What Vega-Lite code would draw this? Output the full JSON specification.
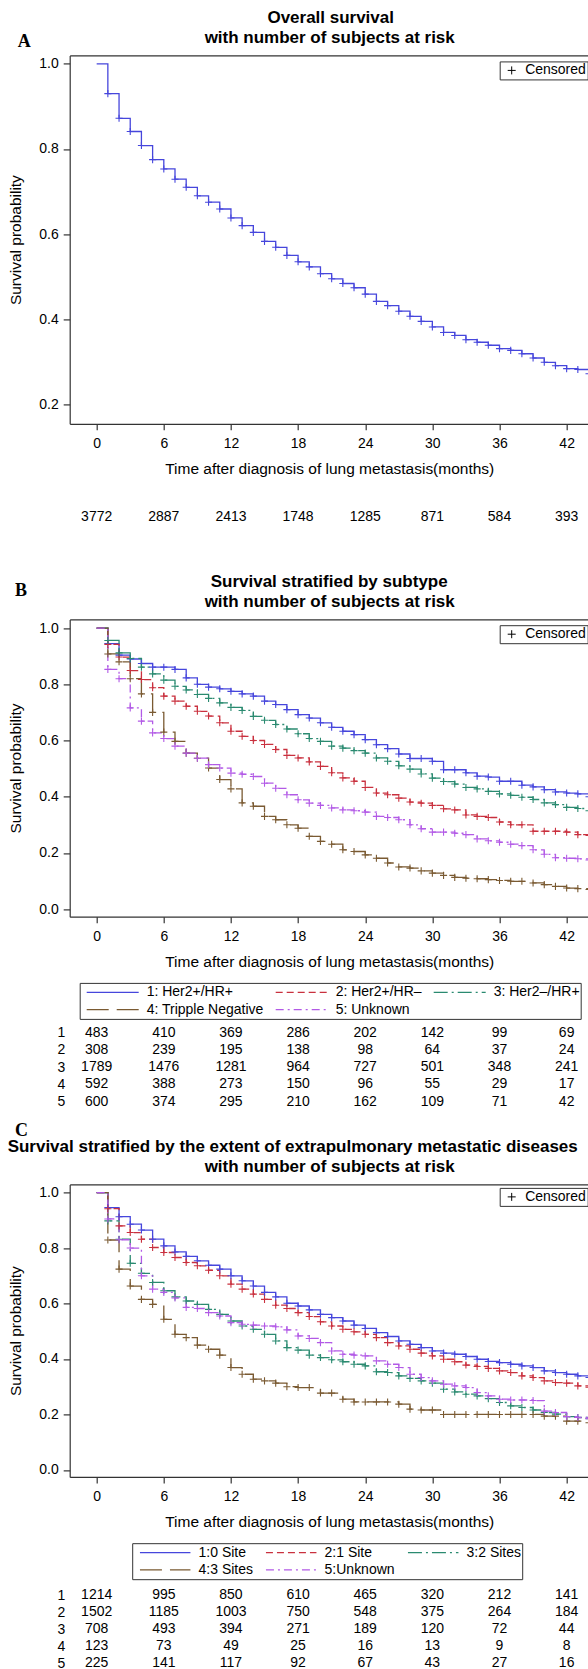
{
"$schema": "https://vega.github.io/schema/vega-lite/v6.json",
"padding": {"left": 6.7, "top": 9.4, "right": 0, "bottom": 0},
"bounds": "flush",
"spacing": 0,
"resolve": {"scale": {"color": "independent", "strokeDash": "independent", "shape": "independent"}, "legend": {"color": "independent", "strokeDash": "independent", "shape": "independent"}},
"title": {"text": "A", "anchor": "start", "frame": "bounds", "font": "Liberation Serif", "fontSize": 18, "fontWeight": "bold", "baseline": "alphabetic", "offset": -55.8, "dx": 10.5, "color": "#000"},
"config": {
 "view": {"stroke": null},
 "font": "Liberation Sans",
 "title": {"color": "#000", "font": "Liberation Sans"},
 "axis": {"domainColor": "#333", "tickColor": "#333", "labelColor": "#000", "titleColor": "#000", "labelFont": "Liberation Sans", "titleFont": "Liberation Sans", "grid": false, "labelFontSize": 14, "titleFontSize": 15.5, "titleFontWeight": "normal", "domainWidth": 1.2, "tickWidth": 1.2},
 "legend": {"labelFont": "Liberation Sans"}
},
"datasets": {
"A": [
{"t":0,"s":1},{"t":1,"s":0.93},{"t":2,"s":0.872},{"t":3,"s":0.841},{"t":4,"s":0.808},{"t":5,"s":0.775},{"t":6,"s":0.753},{"t":7,"s":0.729},{"t":8,"s":0.71},{"t":9,"s":0.69},{"t":10,"s":0.675},{"t":11,"s":0.659},{"t":12,"s":0.638},{"t":13,"s":0.62},{"t":14,"s":0.604},{"t":15,"s":0.583},{"t":16,"s":0.569},{"t":17,"s":0.55},{"t":18,"s":0.535},{"t":19,"s":0.523},{"t":20,"s":0.507},{"t":21,"s":0.495},{"t":22,"s":0.484},{"t":23,"s":0.474},{"t":24,"s":0.459},{"t":25,"s":0.442},{"t":26,"s":0.432},{"t":27,"s":0.419},{"t":28,"s":0.407},{"t":29,"s":0.395},{"t":30,"s":0.382},{"t":31,"s":0.369},{"t":32,"s":0.362},{"t":33,"s":0.352},{"t":34,"s":0.346},{"t":35,"s":0.339},{"t":36,"s":0.331},{"t":37,"s":0.327},{"t":38,"s":0.319},{"t":39,"s":0.309},{"t":40,"s":0.299},{"t":41,"s":0.291},{"t":42,"s":0.284},{"t":43,"s":0.282},{"t":44,"s":0.272},{"t":45,"s":0.272}
],
"B": [
{"g":"1: Her2+/HR+","t":0,"s":1},{"g":"1: Her2+/HR+","t":1,"s":0.945},{"g":"1: Her2+/HR+","t":2,"s":0.904},{"g":"1: Her2+/HR+","t":3,"s":0.89},{"g":"1: Her2+/HR+","t":4,"s":0.874},{"g":"1: Her2+/HR+","t":5,"s":0.861},{"g":"1: Her2+/HR+","t":6,"s":0.861},{"g":"1: Her2+/HR+","t":7,"s":0.853},{"g":"1: Her2+/HR+","t":8,"s":0.823},{"g":"1: Her2+/HR+","t":9,"s":0.8},{"g":"1: Her2+/HR+","t":10,"s":0.79},{"g":"1: Her2+/HR+","t":11,"s":0.784},{"g":"1: Her2+/HR+","t":12,"s":0.775},{"g":"1: Her2+/HR+","t":13,"s":0.766},{"g":"1: Her2+/HR+","t":14,"s":0.758},{"g":"1: Her2+/HR+","t":15,"s":0.74},{"g":"1: Her2+/HR+","t":16,"s":0.728},{"g":"1: Her2+/HR+","t":17,"s":0.71},{"g":"1: Her2+/HR+","t":18,"s":0.692},{"g":"1: Her2+/HR+","t":19,"s":0.68},{"g":"1: Her2+/HR+","t":20,"s":0.663},{"g":"1: Her2+/HR+","t":21,"s":0.647},{"g":"1: Her2+/HR+","t":22,"s":0.633},{"g":"1: Her2+/HR+","t":23,"s":0.621},{"g":"1: Her2+/HR+","t":24,"s":0.603},{"g":"1: Her2+/HR+","t":25,"s":0.585},{"g":"1: Her2+/HR+","t":26,"s":0.571},{"g":"1: Her2+/HR+","t":27,"s":0.552},{"g":"1: Her2+/HR+","t":28,"s":0.536},{"g":"1: Her2+/HR+","t":29,"s":0.536},{"g":"1: Her2+/HR+","t":30,"s":0.526},{"g":"1: Her2+/HR+","t":31,"s":0.496},{"g":"1: Her2+/HR+","t":32,"s":0.496},{"g":"1: Her2+/HR+","t":33,"s":0.485},{"g":"1: Her2+/HR+","t":34,"s":0.473},{"g":"1: Her2+/HR+","t":35,"s":0.47},{"g":"1: Her2+/HR+","t":36,"s":0.455},{"g":"1: Her2+/HR+","t":37,"s":0.455},{"g":"1: Her2+/HR+","t":38,"s":0.441},{"g":"1: Her2+/HR+","t":39,"s":0.435},{"g":"1: Her2+/HR+","t":40,"s":0.425},{"g":"1: Her2+/HR+","t":41,"s":0.417},{"g":"1: Her2+/HR+","t":42,"s":0.413},{"g":"1: Her2+/HR+","t":43,"s":0.41},{"g":"1: Her2+/HR+","t":44,"s":0.4},{"g":"1: Her2+/HR+","t":45,"s":0.4},
{"g":"2: Her2+/HR–","t":0,"s":1},{"g":"2: Her2+/HR–","t":1,"s":0.942},{"g":"2: Her2+/HR–","t":2,"s":0.897},{"g":"2: Her2+/HR–","t":3,"s":0.849},{"g":"2: Her2+/HR–","t":4,"s":0.817},{"g":"2: Her2+/HR–","t":5,"s":0.788},{"g":"2: Her2+/HR–","t":6,"s":0.758},{"g":"2: Her2+/HR–","t":7,"s":0.74},{"g":"2: Her2+/HR–","t":8,"s":0.722},{"g":"2: Her2+/HR–","t":9,"s":0.704},{"g":"2: Her2+/HR–","t":10,"s":0.687},{"g":"2: Her2+/HR–","t":11,"s":0.663},{"g":"2: Her2+/HR–","t":12,"s":0.633},{"g":"2: Her2+/HR–","t":13,"s":0.615},{"g":"2: Her2+/HR–","t":14,"s":0.6},{"g":"2: Her2+/HR–","t":15,"s":0.586},{"g":"2: Her2+/HR–","t":16,"s":0.568},{"g":"2: Her2+/HR–","t":17,"s":0.547},{"g":"2: Her2+/HR–","t":18,"s":0.538},{"g":"2: Her2+/HR–","t":19,"s":0.524},{"g":"2: Her2+/HR–","t":20,"s":0.508},{"g":"2: Her2+/HR–","t":21,"s":0.485},{"g":"2: Her2+/HR–","t":22,"s":0.467},{"g":"2: Her2+/HR–","t":23,"s":0.455},{"g":"2: Her2+/HR–","t":24,"s":0.433},{"g":"2: Her2+/HR–","t":25,"s":0.413},{"g":"2: Her2+/HR–","t":26,"s":0.407},{"g":"2: Her2+/HR–","t":27,"s":0.395},{"g":"2: Her2+/HR–","t":28,"s":0.381},{"g":"2: Her2+/HR–","t":29,"s":0.377},{"g":"2: Her2+/HR–","t":30,"s":0.369},{"g":"2: Her2+/HR–","t":31,"s":0.357},{"g":"2: Her2+/HR–","t":32,"s":0.353},{"g":"2: Her2+/HR–","t":33,"s":0.335},{"g":"2: Her2+/HR–","t":34,"s":0.33},{"g":"2: Her2+/HR–","t":35,"s":0.326},{"g":"2: Her2+/HR–","t":36,"s":0.31},{"g":"2: Her2+/HR–","t":37,"s":0.3},{"g":"2: Her2+/HR–","t":38,"s":0.3},{"g":"2: Her2+/HR–","t":39,"s":0.277},{"g":"2: Her2+/HR–","t":40,"s":0.277},{"g":"2: Her2+/HR–","t":41,"s":0.277},{"g":"2: Her2+/HR–","t":42,"s":0.274},{"g":"2: Her2+/HR–","t":43,"s":0.265},{"g":"2: Her2+/HR–","t":44,"s":0.262},{"g":"2: Her2+/HR–","t":45,"s":0.262},
{"g":"3: Her2–/HR+","t":0,"s":1},{"g":"3: Her2–/HR+","t":1,"s":0.956},{"g":"3: Her2–/HR+","t":2,"s":0.912},{"g":"3: Her2–/HR+","t":3,"s":0.892},{"g":"3: Her2–/HR+","t":4,"s":0.861},{"g":"3: Her2–/HR+","t":5,"s":0.837},{"g":"3: Her2–/HR+","t":6,"s":0.815},{"g":"3: Her2–/HR+","t":7,"s":0.793},{"g":"3: Her2–/HR+","t":8,"s":0.78},{"g":"3: Her2–/HR+","t":9,"s":0.764},{"g":"3: Her2–/HR+","t":10,"s":0.75},{"g":"3: Her2–/HR+","t":11,"s":0.734},{"g":"3: Her2–/HR+","t":12,"s":0.718},{"g":"3: Her2–/HR+","t":13,"s":0.707},{"g":"3: Her2–/HR+","t":14,"s":0.686},{"g":"3: Her2–/HR+","t":15,"s":0.672},{"g":"3: Her2–/HR+","t":16,"s":0.657},{"g":"3: Her2–/HR+","t":17,"s":0.641},{"g":"3: Her2–/HR+","t":18,"s":0.624},{"g":"3: Her2–/HR+","t":19,"s":0.607},{"g":"3: Her2–/HR+","t":20,"s":0.597},{"g":"3: Her2–/HR+","t":21,"s":0.58},{"g":"3: Her2–/HR+","t":22,"s":0.573},{"g":"3: Her2–/HR+","t":23,"s":0.564},{"g":"3: Her2–/HR+","t":24,"s":0.555},{"g":"3: Her2–/HR+","t":25,"s":0.538},{"g":"3: Her2–/HR+","t":26,"s":0.526},{"g":"3: Her2–/HR+","t":27,"s":0.51},{"g":"3: Her2–/HR+","t":28,"s":0.498},{"g":"3: Her2–/HR+","t":29,"s":0.481},{"g":"3: Her2–/HR+","t":30,"s":0.466},{"g":"3: Her2–/HR+","t":31,"s":0.454},{"g":"3: Her2–/HR+","t":32,"s":0.445},{"g":"3: Her2–/HR+","t":33,"s":0.433},{"g":"3: Her2–/HR+","t":34,"s":0.428},{"g":"3: Her2–/HR+","t":35,"s":0.419},{"g":"3: Her2–/HR+","t":36,"s":0.41},{"g":"3: Her2–/HR+","t":37,"s":0.405},{"g":"3: Her2–/HR+","t":38,"s":0.398},{"g":"3: Her2–/HR+","t":39,"s":0.39},{"g":"3: Her2–/HR+","t":40,"s":0.378},{"g":"3: Her2–/HR+","t":41,"s":0.372},{"g":"3: Her2–/HR+","t":42,"s":0.362},{"g":"3: Her2–/HR+","t":43,"s":0.358},{"g":"3: Her2–/HR+","t":44,"s":0.35},{"g":"3: Her2–/HR+","t":45,"s":0.35},
{"g":"4: Tripple Negative","t":0,"s":1},{"g":"4: Tripple Negative","t":1,"s":0.908},{"g":"4: Tripple Negative","t":2,"s":0.88},{"g":"4: Tripple Negative","t":3,"s":0.82},{"g":"4: Tripple Negative","t":4,"s":0.766},{"g":"4: Tripple Negative","t":5,"s":0.7},{"g":"4: Tripple Negative","t":6,"s":0.63},{"g":"4: Tripple Negative","t":7,"s":0.597},{"g":"4: Tripple Negative","t":8,"s":0.555},{"g":"4: Tripple Negative","t":9,"s":0.537},{"g":"4: Tripple Negative","t":10,"s":0.502},{"g":"4: Tripple Negative","t":11,"s":0.461},{"g":"4: Tripple Negative","t":12,"s":0.428},{"g":"4: Tripple Negative","t":13,"s":0.378},{"g":"4: Tripple Negative","t":14,"s":0.366},{"g":"4: Tripple Negative","t":15,"s":0.33},{"g":"4: Tripple Negative","t":16,"s":0.318},{"g":"4: Tripple Negative","t":17,"s":0.3},{"g":"4: Tripple Negative","t":18,"s":0.288},{"g":"4: Tripple Negative","t":19,"s":0.259},{"g":"4: Tripple Negative","t":20,"s":0.241},{"g":"4: Tripple Negative","t":21,"s":0.231},{"g":"4: Tripple Negative","t":22,"s":0.211},{"g":"4: Tripple Negative","t":23,"s":0.205},{"g":"4: Tripple Negative","t":24,"s":0.193},{"g":"4: Tripple Negative","t":25,"s":0.181},{"g":"4: Tripple Negative","t":26,"s":0.164},{"g":"4: Tripple Negative","t":27,"s":0.15},{"g":"4: Tripple Negative","t":28,"s":0.146},{"g":"4: Tripple Negative","t":29,"s":0.136},{"g":"4: Tripple Negative","t":30,"s":0.128},{"g":"4: Tripple Negative","t":31,"s":0.12},{"g":"4: Tripple Negative","t":32,"s":0.113},{"g":"4: Tripple Negative","t":33,"s":0.11},{"g":"4: Tripple Negative","t":34,"s":0.108},{"g":"4: Tripple Negative","t":35,"s":0.105},{"g":"4: Tripple Negative","t":36,"s":0.102},{"g":"4: Tripple Negative","t":37,"s":0.099},{"g":"4: Tripple Negative","t":38,"s":0.099},{"g":"4: Tripple Negative","t":39,"s":0.093},{"g":"4: Tripple Negative","t":40,"s":0.087},{"g":"4: Tripple Negative","t":41,"s":0.081},{"g":"4: Tripple Negative","t":42,"s":0.075},{"g":"4: Tripple Negative","t":43,"s":0.073},{"g":"4: Tripple Negative","t":44,"s":0.07},{"g":"4: Tripple Negative","t":45,"s":0.07},
{"g":"5: Unknown","t":0,"s":1},{"g":"5: Unknown","t":1,"s":0.853},{"g":"5: Unknown","t":2,"s":0.82},{"g":"5: Unknown","t":3,"s":0.716},{"g":"5: Unknown","t":4,"s":0.669},{"g":"5: Unknown","t":5,"s":0.627},{"g":"5: Unknown","t":6,"s":0.607},{"g":"5: Unknown","t":7,"s":0.58},{"g":"5: Unknown","t":8,"s":0.555},{"g":"5: Unknown","t":9,"s":0.537},{"g":"5: Unknown","t":10,"s":0.514},{"g":"5: Unknown","t":11,"s":0.502},{"g":"5: Unknown","t":12,"s":0.484},{"g":"5: Unknown","t":13,"s":0.48},{"g":"5: Unknown","t":14,"s":0.472},{"g":"5: Unknown","t":15,"s":0.448},{"g":"5: Unknown","t":16,"s":0.43},{"g":"5: Unknown","t":17,"s":0.407},{"g":"5: Unknown","t":18,"s":0.389},{"g":"5: Unknown","t":19,"s":0.377},{"g":"5: Unknown","t":20,"s":0.369},{"g":"5: Unknown","t":21,"s":0.36},{"g":"5: Unknown","t":22,"s":0.353},{"g":"5: Unknown","t":23,"s":0.35},{"g":"5: Unknown","t":24,"s":0.345},{"g":"5: Unknown","t":25,"s":0.33},{"g":"5: Unknown","t":26,"s":0.326},{"g":"5: Unknown","t":27,"s":0.318},{"g":"5: Unknown","t":28,"s":0.3},{"g":"5: Unknown","t":29,"s":0.286},{"g":"5: Unknown","t":30,"s":0.274},{"g":"5: Unknown","t":31,"s":0.274},{"g":"5: Unknown","t":32,"s":0.27},{"g":"5: Unknown","t":33,"s":0.265},{"g":"5: Unknown","t":34,"s":0.25},{"g":"5: Unknown","t":35,"s":0.243},{"g":"5: Unknown","t":36,"s":0.238},{"g":"5: Unknown","t":37,"s":0.231},{"g":"5: Unknown","t":38,"s":0.226},{"g":"5: Unknown","t":39,"s":0.211},{"g":"5: Unknown","t":40,"s":0.195},{"g":"5: Unknown","t":41,"s":0.183},{"g":"5: Unknown","t":42,"s":0.181},{"g":"5: Unknown","t":43,"s":0.179},{"g":"5: Unknown","t":44,"s":0.175},{"g":"5: Unknown","t":45,"s":0.175}
],
"C": [
{"g":"1:0 Site","t":0,"s":1},{"g":"1:0 Site","t":1,"s":0.946},{"g":"1:0 Site","t":2,"s":0.913},{"g":"1:0 Site","t":3,"s":0.886},{"g":"1:0 Site","t":4,"s":0.865},{"g":"1:0 Site","t":5,"s":0.832},{"g":"1:0 Site","t":6,"s":0.808},{"g":"1:0 Site","t":7,"s":0.786},{"g":"1:0 Site","t":8,"s":0.77},{"g":"1:0 Site","t":9,"s":0.754},{"g":"1:0 Site","t":10,"s":0.738},{"g":"1:0 Site","t":11,"s":0.724},{"g":"1:0 Site","t":12,"s":0.7},{"g":"1:0 Site","t":13,"s":0.682},{"g":"1:0 Site","t":14,"s":0.663},{"g":"1:0 Site","t":15,"s":0.64},{"g":"1:0 Site","t":16,"s":0.624},{"g":"1:0 Site","t":17,"s":0.601},{"g":"1:0 Site","t":18,"s":0.591},{"g":"1:0 Site","t":19,"s":0.577},{"g":"1:0 Site","t":20,"s":0.561},{"g":"1:0 Site","t":21,"s":0.549},{"g":"1:0 Site","t":22,"s":0.537},{"g":"1:0 Site","t":23,"s":0.522},{"g":"1:0 Site","t":24,"s":0.51},{"g":"1:0 Site","t":25,"s":0.495},{"g":"1:0 Site","t":26,"s":0.481},{"g":"1:0 Site","t":27,"s":0.465},{"g":"1:0 Site","t":28,"s":0.453},{"g":"1:0 Site","t":29,"s":0.441},{"g":"1:0 Site","t":30,"s":0.429},{"g":"1:0 Site","t":31,"s":0.421},{"g":"1:0 Site","t":32,"s":0.417},{"g":"1:0 Site","t":33,"s":0.409},{"g":"1:0 Site","t":34,"s":0.399},{"g":"1:0 Site","t":35,"s":0.391},{"g":"1:0 Site","t":36,"s":0.387},{"g":"1:0 Site","t":37,"s":0.381},{"g":"1:0 Site","t":38,"s":0.375},{"g":"1:0 Site","t":39,"s":0.369},{"g":"1:0 Site","t":40,"s":0.357},{"g":"1:0 Site","t":41,"s":0.351},{"g":"1:0 Site","t":42,"s":0.345},{"g":"1:0 Site","t":43,"s":0.339},{"g":"1:0 Site","t":44,"s":0.333},{"g":"1:0 Site","t":45,"s":0.333},
{"g":"2:1 Site","t":0,"s":1},{"g":"2:1 Site","t":1,"s":0.942},{"g":"2:1 Site","t":2,"s":0.88},{"g":"2:1 Site","t":3,"s":0.856},{"g":"2:1 Site","t":4,"s":0.832},{"g":"2:1 Site","t":5,"s":0.802},{"g":"2:1 Site","t":6,"s":0.784},{"g":"2:1 Site","t":7,"s":0.766},{"g":"2:1 Site","t":8,"s":0.748},{"g":"2:1 Site","t":9,"s":0.736},{"g":"2:1 Site","t":10,"s":0.72},{"g":"2:1 Site","t":11,"s":0.7},{"g":"2:1 Site","t":12,"s":0.67},{"g":"2:1 Site","t":13,"s":0.652},{"g":"2:1 Site","t":14,"s":0.634},{"g":"2:1 Site","t":15,"s":0.615},{"g":"2:1 Site","t":16,"s":0.594},{"g":"2:1 Site","t":17,"s":0.582},{"g":"2:1 Site","t":18,"s":0.567},{"g":"2:1 Site","t":19,"s":0.553},{"g":"2:1 Site","t":20,"s":0.534},{"g":"2:1 Site","t":21,"s":0.519},{"g":"2:1 Site","t":22,"s":0.507},{"g":"2:1 Site","t":23,"s":0.498},{"g":"2:1 Site","t":24,"s":0.489},{"g":"2:1 Site","t":25,"s":0.477},{"g":"2:1 Site","t":26,"s":0.459},{"g":"2:1 Site","t":27,"s":0.447},{"g":"2:1 Site","t":28,"s":0.435},{"g":"2:1 Site","t":29,"s":0.421},{"g":"2:1 Site","t":30,"s":0.411},{"g":"2:1 Site","t":31,"s":0.399},{"g":"2:1 Site","t":32,"s":0.39},{"g":"2:1 Site","t":33,"s":0.378},{"g":"2:1 Site","t":34,"s":0.373},{"g":"2:1 Site","t":35,"s":0.366},{"g":"2:1 Site","t":36,"s":0.357},{"g":"2:1 Site","t":37,"s":0.351},{"g":"2:1 Site","t":38,"s":0.339},{"g":"2:1 Site","t":39,"s":0.333},{"g":"2:1 Site","t":40,"s":0.321},{"g":"2:1 Site","t":41,"s":0.315},{"g":"2:1 Site","t":42,"s":0.313},{"g":"2:1 Site","t":43,"s":0.303},{"g":"2:1 Site","t":44,"s":0.298},{"g":"2:1 Site","t":45,"s":0.298},
{"g":"3:2 Sites","t":0,"s":1},{"g":"3:2 Sites","t":1,"s":0.898},{"g":"3:2 Sites","t":2,"s":0.832},{"g":"3:2 Sites","t":3,"s":0.745},{"g":"3:2 Sites","t":4,"s":0.709},{"g":"3:2 Sites","t":5,"s":0.676},{"g":"3:2 Sites","t":6,"s":0.646},{"g":"3:2 Sites","t":7,"s":0.624},{"g":"3:2 Sites","t":8,"s":0.609},{"g":"3:2 Sites","t":9,"s":0.597},{"g":"3:2 Sites","t":10,"s":0.579},{"g":"3:2 Sites","t":11,"s":0.561},{"g":"3:2 Sites","t":12,"s":0.537},{"g":"3:2 Sites","t":13,"s":0.519},{"g":"3:2 Sites","t":14,"s":0.507},{"g":"3:2 Sites","t":15,"s":0.489},{"g":"3:2 Sites","t":16,"s":0.465},{"g":"3:2 Sites","t":17,"s":0.441},{"g":"3:2 Sites","t":18,"s":0.432},{"g":"3:2 Sites","t":19,"s":0.414},{"g":"3:2 Sites","t":20,"s":0.405},{"g":"3:2 Sites","t":21,"s":0.397},{"g":"3:2 Sites","t":22,"s":0.39},{"g":"3:2 Sites","t":23,"s":0.381},{"g":"3:2 Sites","t":24,"s":0.375},{"g":"3:2 Sites","t":25,"s":0.354},{"g":"3:2 Sites","t":26,"s":0.351},{"g":"3:2 Sites","t":27,"s":0.339},{"g":"3:2 Sites","t":28,"s":0.33},{"g":"3:2 Sites","t":29,"s":0.321},{"g":"3:2 Sites","t":30,"s":0.313},{"g":"3:2 Sites","t":31,"s":0.291},{"g":"3:2 Sites","t":32,"s":0.281},{"g":"3:2 Sites","t":33,"s":0.273},{"g":"3:2 Sites","t":34,"s":0.267},{"g":"3:2 Sites","t":35,"s":0.257},{"g":"3:2 Sites","t":36,"s":0.243},{"g":"3:2 Sites","t":37,"s":0.231},{"g":"3:2 Sites","t":38,"s":0.225},{"g":"3:2 Sites","t":39,"s":0.216},{"g":"3:2 Sites","t":40,"s":0.207},{"g":"3:2 Sites","t":41,"s":0.201},{"g":"3:2 Sites","t":42,"s":0.192},{"g":"3:2 Sites","t":43,"s":0.189},{"g":"3:2 Sites","t":44,"s":0.185},{"g":"3:2 Sites","t":45,"s":0.185},
{"g":"4:3 Sites","t":0,"s":1},{"g":"4:3 Sites","t":1,"s":0.829},{"g":"4:3 Sites","t":2,"s":0.724},{"g":"4:3 Sites","t":3,"s":0.663},{"g":"4:3 Sites","t":4,"s":0.615},{"g":"4:3 Sites","t":5,"s":0.597},{"g":"4:3 Sites","t":6,"s":0.543},{"g":"4:3 Sites","t":7,"s":0.489},{"g":"4:3 Sites","t":8,"s":0.477},{"g":"4:3 Sites","t":9,"s":0.45},{"g":"4:3 Sites","t":10,"s":0.435},{"g":"4:3 Sites","t":11,"s":0.414},{"g":"4:3 Sites","t":12,"s":0.369},{"g":"4:3 Sites","t":13,"s":0.345},{"g":"4:3 Sites","t":14,"s":0.327},{"g":"4:3 Sites","t":15,"s":0.321},{"g":"4:3 Sites","t":16,"s":0.313},{"g":"4:3 Sites","t":17,"s":0.3},{"g":"4:3 Sites","t":18,"s":0.297},{"g":"4:3 Sites","t":19,"s":0.297},{"g":"4:3 Sites","t":20,"s":0.277},{"g":"4:3 Sites","t":21,"s":0.277},{"g":"4:3 Sites","t":22,"s":0.255},{"g":"4:3 Sites","t":23,"s":0.245},{"g":"4:3 Sites","t":24,"s":0.245},{"g":"4:3 Sites","t":25,"s":0.245},{"g":"4:3 Sites","t":26,"s":0.245},{"g":"4:3 Sites","t":27,"s":0.237},{"g":"4:3 Sites","t":28,"s":0.219},{"g":"4:3 Sites","t":29,"s":0.216},{"g":"4:3 Sites","t":30,"s":0.216},{"g":"4:3 Sites","t":31,"s":0.2},{"g":"4:3 Sites","t":32,"s":0.2},{"g":"4:3 Sites","t":33,"s":0.2},{"g":"4:3 Sites","t":34,"s":0.2},{"g":"4:3 Sites","t":35,"s":0.2},{"g":"4:3 Sites","t":36,"s":0.2},{"g":"4:3 Sites","t":37,"s":0.2},{"g":"4:3 Sites","t":38,"s":0.2},{"g":"4:3 Sites","t":39,"s":0.2},{"g":"4:3 Sites","t":40,"s":0.194},{"g":"4:3 Sites","t":41,"s":0.194},{"g":"4:3 Sites","t":42,"s":0.176},{"g":"4:3 Sites","t":43,"s":0.176},{"g":"4:3 Sites","t":44,"s":0.17},{"g":"4:3 Sites","t":45,"s":0.17},
{"g":"5:Unknown","t":0,"s":1},{"g":"5:Unknown","t":1,"s":0.905},{"g":"5:Unknown","t":2,"s":0.83},{"g":"5:Unknown","t":3,"s":0.8},{"g":"5:Unknown","t":4,"s":0.7},{"g":"5:Unknown","t":5,"s":0.652},{"g":"5:Unknown","t":6,"s":0.64},{"g":"5:Unknown","t":7,"s":0.62},{"g":"5:Unknown","t":8,"s":0.586},{"g":"5:Unknown","t":9,"s":0.582},{"g":"5:Unknown","t":10,"s":0.567},{"g":"5:Unknown","t":11,"s":0.555},{"g":"5:Unknown","t":12,"s":0.531},{"g":"5:Unknown","t":13,"s":0.525},{"g":"5:Unknown","t":14,"s":0.522},{"g":"5:Unknown","t":15,"s":0.519},{"g":"5:Unknown","t":16,"s":0.516},{"g":"5:Unknown","t":17,"s":0.505},{"g":"5:Unknown","t":18,"s":0.483},{"g":"5:Unknown","t":19,"s":0.474},{"g":"5:Unknown","t":20,"s":0.459},{"g":"5:Unknown","t":21,"s":0.429},{"g":"5:Unknown","t":22,"s":0.417},{"g":"5:Unknown","t":23,"s":0.414},{"g":"5:Unknown","t":24,"s":0.411},{"g":"5:Unknown","t":25,"s":0.393},{"g":"5:Unknown","t":26,"s":0.381},{"g":"5:Unknown","t":27,"s":0.369},{"g":"5:Unknown","t":28,"s":0.345},{"g":"5:Unknown","t":29,"s":0.333},{"g":"5:Unknown","t":30,"s":0.321},{"g":"5:Unknown","t":31,"s":0.309},{"g":"5:Unknown","t":32,"s":0.303},{"g":"5:Unknown","t":33,"s":0.297},{"g":"5:Unknown","t":34,"s":0.279},{"g":"5:Unknown","t":35,"s":0.267},{"g":"5:Unknown","t":36,"s":0.255},{"g":"5:Unknown","t":37,"s":0.252},{"g":"5:Unknown","t":38,"s":0.252},{"g":"5:Unknown","t":39,"s":0.25},{"g":"5:Unknown","t":40,"s":0.212},{"g":"5:Unknown","t":41,"s":0.207},{"g":"5:Unknown","t":42,"s":0.192},{"g":"5:Unknown","t":43,"s":0.189},{"g":"5:Unknown","t":44,"s":0.185},{"g":"5:Unknown","t":45,"s":0.185}
],
"tA": [
{"r":1,"t":0,"n":"3772"},{"r":1,"t":6,"n":"2887"},{"r":1,"t":12,"n":"2413"},{"r":1,"t":18,"n":"1748"},{"r":1,"t":24,"n":"1285"},{"r":1,"t":30,"n":"871"},{"r":1,"t":36,"n":"584"},{"r":1,"t":42,"n":"393"}
],
"tB": [
{"r":1,"t":0,"n":"483"},{"r":1,"t":6,"n":"410"},{"r":1,"t":12,"n":"369"},{"r":1,"t":18,"n":"286"},{"r":1,"t":24,"n":"202"},{"r":1,"t":30,"n":"142"},{"r":1,"t":36,"n":"99"},{"r":1,"t":42,"n":"69"},
{"r":2,"t":0,"n":"308"},{"r":2,"t":6,"n":"239"},{"r":2,"t":12,"n":"195"},{"r":2,"t":18,"n":"138"},{"r":2,"t":24,"n":"98"},{"r":2,"t":30,"n":"64"},{"r":2,"t":36,"n":"37"},{"r":2,"t":42,"n":"24"},
{"r":3,"t":0,"n":"1789"},{"r":3,"t":6,"n":"1476"},{"r":3,"t":12,"n":"1281"},{"r":3,"t":18,"n":"964"},{"r":3,"t":24,"n":"727"},{"r":3,"t":30,"n":"501"},{"r":3,"t":36,"n":"348"},{"r":3,"t":42,"n":"241"},
{"r":4,"t":0,"n":"592"},{"r":4,"t":6,"n":"388"},{"r":4,"t":12,"n":"273"},{"r":4,"t":18,"n":"150"},{"r":4,"t":24,"n":"96"},{"r":4,"t":30,"n":"55"},{"r":4,"t":36,"n":"29"},{"r":4,"t":42,"n":"17"},
{"r":5,"t":0,"n":"600"},{"r":5,"t":6,"n":"374"},{"r":5,"t":12,"n":"295"},{"r":5,"t":18,"n":"210"},{"r":5,"t":24,"n":"162"},{"r":5,"t":30,"n":"109"},{"r":5,"t":36,"n":"71"},{"r":5,"t":42,"n":"42"}
],
"tC": [
{"r":1,"t":0,"n":"1214"},{"r":1,"t":6,"n":"995"},{"r":1,"t":12,"n":"850"},{"r":1,"t":18,"n":"610"},{"r":1,"t":24,"n":"465"},{"r":1,"t":30,"n":"320"},{"r":1,"t":36,"n":"212"},{"r":1,"t":42,"n":"141"},
{"r":2,"t":0,"n":"1502"},{"r":2,"t":6,"n":"1185"},{"r":2,"t":12,"n":"1003"},{"r":2,"t":18,"n":"750"},{"r":2,"t":24,"n":"548"},{"r":2,"t":30,"n":"375"},{"r":2,"t":36,"n":"264"},{"r":2,"t":42,"n":"184"},
{"r":3,"t":0,"n":"708"},{"r":3,"t":6,"n":"493"},{"r":3,"t":12,"n":"394"},{"r":3,"t":18,"n":"271"},{"r":3,"t":24,"n":"189"},{"r":3,"t":30,"n":"120"},{"r":3,"t":36,"n":"72"},{"r":3,"t":42,"n":"44"},
{"r":4,"t":0,"n":"123"},{"r":4,"t":6,"n":"73"},{"r":4,"t":12,"n":"49"},{"r":4,"t":18,"n":"25"},{"r":4,"t":24,"n":"16"},{"r":4,"t":30,"n":"13"},{"r":4,"t":36,"n":"9"},{"r":4,"t":42,"n":"8"},
{"r":5,"t":0,"n":"225"},{"r":5,"t":6,"n":"141"},{"r":5,"t":12,"n":"117"},{"r":5,"t":18,"n":"92"},{"r":5,"t":24,"n":"67"},{"r":5,"t":30,"n":"43"},{"r":5,"t":36,"n":"27"},{"r":5,"t":42,"n":"16"}
]
},
"vconcat": [
{
 "width": 519, "height": 368.4,
 "title": {"text": "Overall survival", "anchor": "middle", "frame": "group", "fontSize": 17, "fontWeight": "bold", "offset": 1, "dx": 1.5},
 "data": {"name": "A"},
 "layer": [
  {"mark": {"type": "line", "interpolate": "step-after", "clip": true, "strokeWidth": 1.3, "color": "#4646dc"},
   "encoding": {
    "x": {"field": "t", "type": "quantitative", "scale": {"domain": [-2.41, 43.97], "nice": false, "zero": false},
          "axis": {"orient": "bottom", "values": [0,6,12,18,24,30,36,42], "title": "Time after diagnosis of lung metastasis(months)", "tickSize": 6, "labelPadding": 6.5, "titlePadding": 11, "labelFlush": false}},
    "y": {"field": "s", "type": "quantitative", "scale": {"domain": [0.1545, 1.0197], "nice": false, "zero": false},
          "axis": {"orient": "left", "values": [0.2,0.4,0.6,0.8,1.0], "format": ".1f", "title": "Survival probability", "tickSize": 6.5, "labelPadding": 5, "titlePadding": 15}}
   }},
  {"transform": [{"filter": "datum.t >= 1 && datum.t <= 44"}],
   "mark": {"type": "point", "filled": false, "clip": true, "size": 50, "strokeWidth": 1.1, "color": "#4646dc", "opacity": 1},
   "encoding": {
    "x": {"field": "t", "type": "quantitative", "axis": {"orient": "top", "title": "with number of subjects at risk", "labels": false, "ticks": false, "domain": true, "titleFontSize": 17, "titleFontWeight": "bold", "titlePadding": 9}},
    "y": {"field": "s", "type": "quantitative", "axis": {"orient": "left", "values": [0.2,0.4,0.6,0.8,1.0], "format": ".1f", "title": "Survival probability", "tickSize": 6.5, "labelPadding": 5, "titlePadding": 15}},
    "shape": {"datum": "Censored", "scale": {"range": ["M-1,0H1M0,-1V1"]},
      "legend": {"title": null, "orient": "none", "legendX": 430, "legendY": 6, "symbolStrokeColor": "#000", "symbolFillColor": "transparent", "symbolSize": 64, "symbolStrokeWidth": 1, "labelFontSize": 14, "labelColor": "#000", "labelOffset": 6.5, "symbolOffset": 4, "padding": 1, "clipHeight": 16, "strokeColor": "#333", "labelExpr": "'Censored '"}}
   }}
 ]
},
{
 "width": 519, "height": 194.3,
 "data": {"name": "tA"},
 "title": {"text": "B", "orient": "bottom", "anchor": "start", "frame": "group", "font": "Liberation Serif", "fontSize": 18, "fontWeight": "bold", "baseline": "alphabetic", "offset": -22.4, "dx": -54.8},
 "mark": {"type": "text", "fontSize": 14, "color": "#000", "font": "Liberation Sans"},
 "encoding": {
  "x": {"field": "t", "type": "quantitative", "scale": {"domain": [-2.41, 43.97], "nice": false, "zero": false}, "axis": null},
  "y": {"field": "r", "type": "quantitative", "scale": {"domain": [-4.429, 7.0], "reverse": true, "nice": false, "zero": false}, "axis": null},
  "text": {"field": "n", "type": "nominal"}
 }
},
{
 "width": 519, "height": 297.3,
 "title": {"text": "Survival stratified by subtype", "anchor": "middle", "frame": "group", "fontSize": 17, "fontWeight": "bold", "offset": 1},
 "data": {"name": "B"},
 "layer": [
  {"mark": {"type": "line", "interpolate": "step-after", "clip": true, "strokeWidth": 1.3},
   "encoding": {
    "x": {"field": "t", "type": "quantitative", "scale": {"domain": [-2.41, 43.97], "nice": false, "zero": false},
          "axis": {"orient": "bottom", "values": [0,6,12,18,24,30,36,42], "title": "Time after diagnosis of lung metastasis(months)", "tickSize": 6, "labelPadding": 6.5, "titlePadding": 11, "labelFlush": false}},
    "y": {"field": "s", "type": "quantitative", "scale": {"domain": [-0.027, 1.031], "nice": false, "zero": false},
          "axis": {"orient": "left", "values": [0,0.2,0.4,0.6,0.8,1.0], "format": ".1f", "title": "Survival probability", "tickSize": 6.5, "labelPadding": 5, "titlePadding": 15}},
    "color": {"field": "g", "type": "nominal", "scale": {"domain": ["1: Her2+/HR+","2: Her2+/HR–","3: Her2–/HR+","4: Tripple Negative","5: Unknown"], "range": ["#4646dc","#c9303e","#2a8a70","#7a5a32","#b25ae6"]},
      "legend": {"title": null, "orient": "none", "legendX": 10, "legendY": 363.5, "direction": "horizontal", "columns": 3, "symbolType": "stroke", "symbolSize": 2704, "symbolStrokeWidth": 1.3, "clipHeight": 16.5, "rowPadding": 0.5, "columnPadding": 6, "labelFontSize": 14, "labelColor": "#000", "labelOffset": 7, "symbolOffset": 5, "padding": 1, "strokeColor": "#333", "labelLimit": 0, "labelExpr": "datum.label + ' '"}},
    "strokeDash": {"field": "g", "type": "nominal", "scale": {"domain": ["1: Her2+/HR+","2: Her2+/HR–","3: Her2–/HR+","4: Tripple Negative","5: Unknown"], "range": [[1,0],[7,4],[14,4,2,4],[22,8],[8,4,2,4]]},
      "legend": {"title": null, "orient": "none", "legendX": 10, "legendY": 363.5, "direction": "horizontal", "columns": 3, "symbolType": "stroke", "symbolSize": 2704, "symbolStrokeWidth": 1.3, "clipHeight": 16.5, "rowPadding": 0.5, "columnPadding": 6, "labelFontSize": 14, "labelColor": "#000", "labelOffset": 7, "symbolOffset": 5, "padding": 1, "strokeColor": "#333", "labelLimit": 0, "labelExpr": "datum.label + ' '"}}
   }},
  {"transform": [{"filter": "datum.t >= 1 && datum.t <= 44"}],
   "mark": {"type": "point", "filled": false, "clip": true, "size": 50, "strokeWidth": 1.1, "opacity": 1},
   "encoding": {
    "x": {"field": "t", "type": "quantitative", "axis": {"orient": "top", "title": "with number of subjects at risk", "labels": false, "ticks": false, "domain": true, "titleFontSize": 17, "titleFontWeight": "bold", "titlePadding": 9}},
    "y": {"field": "s", "type": "quantitative", "axis": {"orient": "left", "values": [0,0.2,0.4,0.6,0.8,1.0], "format": ".1f", "title": "Survival probability", "tickSize": 6.5, "labelPadding": 5, "titlePadding": 15}},
    "color": {"field": "g", "type": "nominal", "legend": null},
    "shape": {"datum": "Censored", "scale": {"range": ["M-1,0H1M0,-1V1"]},
      "legend": {"title": null, "orient": "none", "legendX": 430, "legendY": 5.8, "symbolStrokeColor": "#000", "symbolFillColor": "transparent", "symbolSize": 64, "symbolStrokeWidth": 1, "labelFontSize": 14, "labelColor": "#000", "labelOffset": 6.5, "symbolOffset": 4, "padding": 1, "clipHeight": 16, "strokeColor": "#333", "labelExpr": "'Censored '"}}
   }}
 ]
},
{
 "width": 519, "height": 266.2,
 "data": {"name": "tB"},
 "title": {"text": "C", "orient": "bottom", "anchor": "start", "frame": "group", "font": "Liberation Serif", "fontSize": 18, "fontWeight": "bold", "baseline": "alphabetic", "offset": -47.6, "dx": -54.8},
 "mark": {"type": "text", "fontSize": 14, "color": "#000", "font": "Liberation Sans"},
 "encoding": {
  "x": {"field": "t", "type": "quantitative", "scale": {"domain": [-2.41, 43.97], "nice": false, "zero": false}, "axis": null},
  "y": {"field": "r", "type": "quantitative", "scale": {"domain": [-5.659, 9.728], "reverse": true, "nice": false, "zero": false}, "axis": {"values": [1,2,3,4,5], "format": "d", "title": null, "domain": false, "ticks": false, "labelPadding": 5, "labelFontSize": 14}},
  "text": {"field": "n", "type": "nominal"}
 }
},
{
 "width": 519, "height": 292.5,
 "title": {"text": "Survival stratified by the extent of extrapulmonary metastatic diseases", "anchor": "middle", "frame": "group", "fontSize": 17, "fontWeight": "bold", "offset": 1, "dx": -36.5},
 "data": {"name": "C"},
 "layer": [
  {"mark": {"type": "line", "interpolate": "step-after", "clip": true, "strokeWidth": 1.3},
   "encoding": {
    "x": {"field": "t", "type": "quantitative", "scale": {"domain": [-2.41, 43.97], "nice": false, "zero": false},
          "axis": {"orient": "bottom", "values": [0,6,12,18,24,30,36,42], "title": "Time after diagnosis of lung metastasis(months)", "tickSize": 6, "labelPadding": 6.5, "titlePadding": 11, "labelFlush": false}},
    "y": {"field": "s", "type": "quantitative", "scale": {"domain": [-0.0252, 1.0296], "nice": false, "zero": false},
          "axis": {"orient": "left", "values": [0,0.2,0.4,0.6,0.8,1.0], "format": ".1f", "title": "Survival probability", "tickSize": 6.5, "labelPadding": 5, "titlePadding": 15}},
    "color": {"field": "g", "type": "nominal", "scale": {"domain": ["1:0 Site","2:1 Site","3:2 Sites","4:3 Sites","5:Unknown"], "range": ["#4646dc","#c9303e","#2a8a70","#7a5a32","#b25ae6"]},
      "legend": {"title": null, "orient": "none", "legendX": 62.5, "legendY": 358.8, "direction": "horizontal", "columns": 3, "symbolType": "stroke", "symbolSize": 2550, "symbolStrokeWidth": 1.3, "clipHeight": 16.5, "rowPadding": 0.5, "columnPadding": 6, "labelFontSize": 14, "labelColor": "#000", "labelOffset": 7.4, "symbolOffset": 6, "padding": 1, "strokeColor": "#333", "labelLimit": 0, "labelExpr": "datum.label + ' '"}},
    "strokeDash": {"field": "g", "type": "nominal", "scale": {"domain": ["1:0 Site","2:1 Site","3:2 Sites","4:3 Sites","5:Unknown"], "range": [[1,0],[7,4],[14,4,2,4],[22,8],[8,4,2,4]]},
      "legend": {"title": null, "orient": "none", "legendX": 62.5, "legendY": 358.8, "direction": "horizontal", "columns": 3, "symbolType": "stroke", "symbolSize": 2550, "symbolStrokeWidth": 1.3, "clipHeight": 16.5, "rowPadding": 0.5, "columnPadding": 6, "labelFontSize": 14, "labelColor": "#000", "labelOffset": 7.4, "symbolOffset": 6, "padding": 1, "strokeColor": "#333", "labelLimit": 0, "labelExpr": "datum.label + ' '"}}
   }},
  {"transform": [{"filter": "datum.t >= 1 && datum.t <= 44"}],
   "mark": {"type": "point", "filled": false, "clip": true, "size": 50, "strokeWidth": 1.1, "opacity": 1},
   "encoding": {
    "x": {"field": "t", "type": "quantitative", "axis": {"orient": "top", "title": "with number of subjects at risk", "labels": false, "ticks": false, "domain": true, "titleFontSize": 17, "titleFontWeight": "bold", "titlePadding": 9}},
    "y": {"field": "s", "type": "quantitative", "axis": {"orient": "left", "values": [0,0.2,0.4,0.6,0.8,1.0], "format": ".1f", "title": "Survival probability", "tickSize": 6.5, "labelPadding": 5, "titlePadding": 15}},
    "color": {"field": "g", "type": "nominal", "legend": null},
    "shape": {"datum": "Censored", "scale": {"range": ["M-1,0H1M0,-1V1"]},
      "legend": {"title": null, "orient": "none", "legendX": 430, "legendY": 3.5, "symbolStrokeColor": "#000", "symbolFillColor": "transparent", "symbolSize": 64, "symbolStrokeWidth": 1, "labelFontSize": 14, "labelColor": "#000", "labelOffset": 6.5, "symbolOffset": 4, "padding": 1, "clipHeight": 16, "strokeColor": "#333", "labelExpr": "'Censored '"}}
   }}
 ]
},
{
 "width": 519, "height": 196.8,
 "data": {"name": "tC"},
 "mark": {"type": "text", "fontSize": 14, "color": "#000", "font": "Liberation Sans"},
 "encoding": {
  "x": {"field": "t", "type": "quantitative", "scale": {"domain": [-2.41, 43.97], "nice": false, "zero": false}, "axis": null},
  "y": {"field": "r", "type": "quantitative", "scale": {"domain": [-5.988, 5.657], "reverse": true, "nice": false, "zero": false}, "axis": {"values": [1,2,3,4,5], "format": "d", "title": null, "domain": false, "ticks": false, "labelPadding": 5, "labelFontSize": 14}},
  "text": {"field": "n", "type": "nominal"}
 }
}
]
}
